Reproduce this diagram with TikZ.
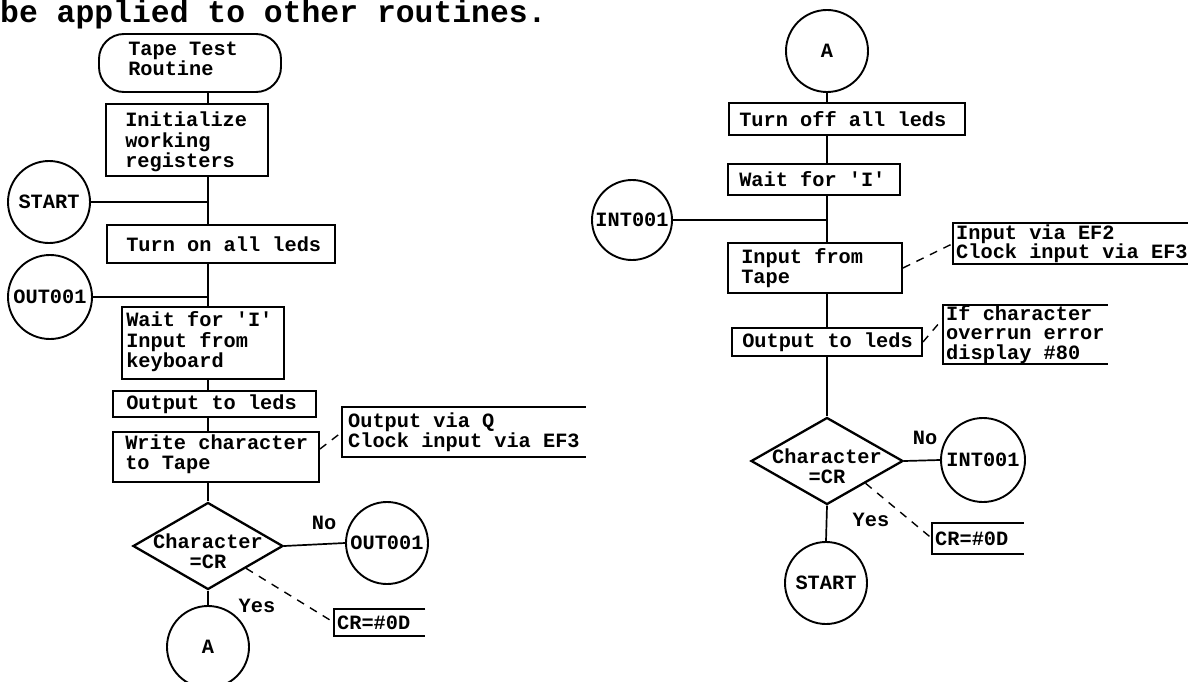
\documentclass[tikz,border=0pt]{standalone}
\usepackage{fontspec}
\setmainfont{Liberation Mono}
\usetikzlibrary{shapes.geometric}
\begin{document}
\begin{tikzpicture}[x=1pt,y=-1pt,
  every node/.style={font=\bfseries\fontsize{20.3}{20.5}\selectfont},
  pbox/.style={draw, line width=1.9pt, rectangle, inner sep=0pt},
  term/.style={pbox, rounded corners=25pt},
  btext/.style={anchor=west, align=left, inner sep=0pt},
  conn/.style={line width=1.7pt},
  note/.style={line width=1.4pt, dash pattern=on 8pt off 7pt},
  decis/.style={draw, diamond, line width=2.3pt, inner sep=0pt, minimum width=150pt, minimum height=87pt},
  dtext/.style={align=center, inner sep=0pt},
  conncirc/.style={draw, circle, line width=1.9pt, inner sep=0pt, minimum size=82pt},
  ann/.style={anchor=west, align=left, inner xsep=3pt, inner ysep=0pt,
    font=\bfseries\fontsize{20.3}{19.5}\selectfont},
  bracket/.style={line width=2pt},
  lbl/.style={inner sep=0pt}
]
\useasboundingbox (0,0) rectangle (1188,682);
\fill[white] (0,0) rectangle (1188,682);

\node[anchor=base west, inner sep=0pt, font=\bfseries\fontsize{31.4}{31.4}\selectfont] (hdr) at (0,23) {be applied to other routines.};

% ---------- left flowchart ----------
\coordinate (Lx) at (208,0);
\coordinate (Rx) at (827,0);

\node[term, minimum width=182pt, minimum height=58pt] (term) at (190,63) {};
\node[btext] (termT) at ([xshift=30pt, yshift=4pt]term.west) {Tape Test\\Routine};
\node[pbox, minimum width=162pt, minimum height=72pt] (init) at (187,140) {};
\node[btext] (initT) at ([xshift=20pt, yshift=-2pt]init.west) {Initialize\\working\\registers};
\node[conncirc] (start1) at (49,202) {START};
\node[pbox, minimum width=228pt, minimum height=38pt] (turnon) at (221,244) {};
\node[btext] (turnonT) at ([xshift=20pt]turnon.west) {Turn on all leds};
\node[conncirc, minimum size=84pt] (out1) at (50,297) {OUT001};
\node[pbox, minimum width=162pt, minimum height=72pt] (wait1) at (203,343) {};
\node[btext] (wait1T) at ([xshift=5pt, yshift=1pt]wait1.west) {Wait for {\textquotesingle}I{\textquotesingle}\\Input from\\keyboard};
\node[pbox, minimum width=203pt, minimum height=26pt] (outl1) at (214.5,404) {};
\node[btext] (outl1T) at ([xshift=14pt]outl1.west) {Output to leds};
\node[pbox, minimum width=206pt, minimum height=50pt] (write) at (216,457) {};
\node[btext] (writeT) at ([xshift=13pt, yshift=3pt]write.west) {Write character\\to Tape};
\node[decis, label={[dtext, yshift=-5pt]center:{Character\\=CR}}] (dec1) at (208,546) {};
\node[conncirc] (out1b) at (387,543) {OUT001};
\node[conncirc] (A1) at (208,647) {A};
\node[ann, inner xsep=6pt, minimum height=50pt] (ann1) at (342,432) {Output via Q\\Clock input via EF3};
\node[ann, minimum height=27pt] (cr1) at (334,622.5) {CR=\#0D};
\node[lbl] (no1) at (324,523) {No};
\node[lbl] (yes1) at (257,606) {Yes};

\draw[conn] (term.south -| Lx) -- (init.north -| Lx);
\draw[conn] (init.south -| Lx) -- (turnon.north -| Lx);
\draw[conn] (start1.east) -- (start1.east -| Lx);
\draw[conn] (turnon.south -| Lx) -- (wait1.north -| Lx);
\draw[conn] (out1.east) -- (out1.east -| Lx);
\draw[conn] (wait1.south -| Lx) -- (outl1.north -| Lx);
\draw[conn] (outl1.south -| Lx) -- (write.north -| Lx);
\draw[conn] (write.south -| Lx) -- (dec1.north);
\draw[conn] (dec1.east) -- (out1b.west);
\draw[conn] (dec1.south) -- (A1.north);
\draw[note] ([yshift=8pt]write.east) -- (ann1.west);
\draw[note] (dec1.south east) -- (cr1.west);

% ---------- right flowchart ----------
\node[conncirc] (A2) at (827,51) {A};
\node[pbox, minimum width=236pt, minimum height=32pt] (turnoff) at (847,119) {};
\node[btext] (turnoffT) at ([xshift=11pt]turnoff.west) {Turn off all leds};
\node[pbox, minimum width=172pt, minimum height=31pt] (wait2) at (814,179.5) {};
\node[btext] (wait2T) at ([xshift=12pt]wait2.west) {Wait for {\textquotesingle}I{\textquotesingle}};
\node[conncirc, minimum size=80pt] (int1) at (632,220) {INT001};
\node[pbox, minimum width=174pt, minimum height=50pt] (intape) at (815,268) {};
\node[btext] (intapeT) at ([xshift=14pt]intape.west) {Input from\\Tape};
\node[pbox, minimum width=190pt, minimum height=28pt] (outl2) at (827,342) {};
\node[btext] (outl2T) at ([xshift=11pt]outl2.west) {Output to leds};
\node[decis, minimum width=152pt, label={[dtext, yshift=-5pt]center:{Character\\=CR}}] (dec2) at (827,461) {};
\node[conncirc, minimum size=84pt] (int2) at (983,460) {INT001};
\node[conncirc] (start2) at (826,583) {START};
\node[ann, minimum height=40pt] (ann2) at (953,243.5) {Input via EF2\\Clock input via EF3};
\node[ann, minimum height=57pt] (ann3) at (943,334.5) {If character\\overrun error\\display \#80};
\node[ann, minimum height=31pt] (cr2) at (932,538.5) {CR=\#0D};
\node[lbl] (no2) at (925,438) {No};
\node[lbl] (yes2) at (871,520) {Yes};

\draw[conn] (A2.south) -- (A2.south |- turnoff.north);
\draw[conn] (turnoff.south -| Rx) -- (wait2.north -| Rx);
\draw[conn] (wait2.south -| Rx) -- (intape.north -| Rx);
\draw[conn] (int1.east) -- (int1.east -| Rx);
\draw[conn] (intape.south -| Rx) -- (outl2.north -| Rx);
\draw[conn] (outl2.south) -- (dec2.north);
\draw[conn] (dec2.east) -- (int2.west);
\draw[conn] (dec2.south) -- (start2.north);
\draw[note] (intape.east) -- (ann2.west);
\draw[note] (outl2.east) -- ([yshift=16pt]ann3.west);
\draw[note] (dec2.south east) -- (cr2.west);

% annotation brackets
\foreach \n in {ann1,ann2,ann3}
  \draw[bracket] (\n.north east) -- (\n.north west) -- (\n.south west) -- (\n.south east);
\foreach \n in {cr1,cr2}
  \draw[bracket] ([xshift=12pt]\n.north east) -- (\n.north west) -- (\n.south west) -- ([xshift=12pt]\n.south east);
\end{tikzpicture}
\end{document}
